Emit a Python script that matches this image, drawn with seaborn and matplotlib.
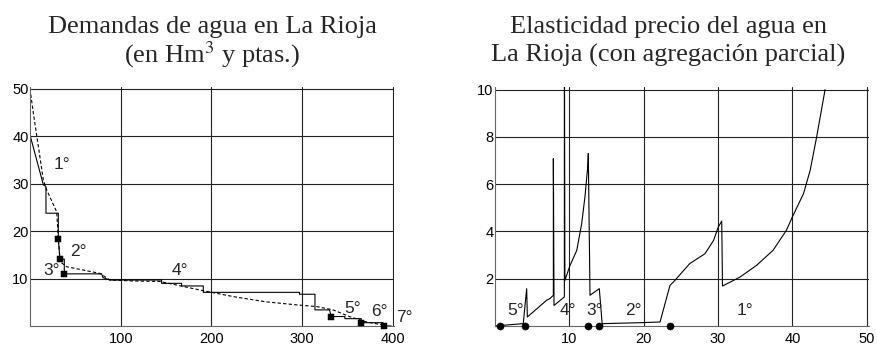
import matplotlib
matplotlib.use("Agg")
import matplotlib.pyplot as plt
import seaborn as sns
import pandas as pd
import numpy as np

# ---------------- data: left chart (demand curves) ----------------
step_x = [0, 14.7, 17.6, 17.6, 31.2, 31.2, 33.0, 36.0, 37.8, 37.8, 78.9, 80.5, 88.0,
          145.0, 145.0, 167.0, 167.0, 191.0, 191.0, 297.0, 297.0, 314.0, 314.0,
          330.0, 332.0, 347.0, 347.0, 365.0, 365.0, 389.0, 390.0, 398.0]
step_y = [40.3, 29.8, 29.4, 23.8, 23.8, 18.4, 14.1, 14.1, 14.1, 11.0, 11.0, 10.2, 9.7,
          9.7, 9.0, 9.0, 8.45, 8.45, 7.1, 7.1, 6.7, 6.7, 3.4,
          3.4, 2.0, 2.0, 1.55, 1.55, 0.7, 0.7, 0.05, 0.0]
dash_x = [0, 3.7, 9.2, 14.7, 18.4, 29.4, 31.2, 33.0, 35.0, 40.4, 58.7, 77.0, 88.0,
          113.8, 143.0, 187.0, 224.0, 260.0, 297.0, 316.0, 334.0, 352.0, 370.0, 389.0]
dash_y = [50.0, 44.9, 37.9, 30.8, 28.7, 24.1, 18.4, 14.1, 13.3, 12.5, 11.8, 11.1, 9.7,
          9.5, 9.4, 7.6, 6.2, 5.1, 4.4, 4.1, 3.4, 2.0, 0.9, 0.2]
mark_left_x = [31.2, 33.0, 37.8, 332.0, 365.0, 390.0]
mark_left_y = [18.4, 14.1, 11.0, 2.0, 0.7, 0.0]
lab_left = ["1°", "2°", "3°", "4°", "5°", "6°", "7°"]
lab_left_x = [35, 53, 24, 165, 355, 385, 413]
lab_left_y = [34, 15.7, 11.8, 11.8, 3.7, 3.0, 1.8]

# ---------------- data: right chart (price elasticity) ----------------
el_x = [0.0, 0.7, 3.8, 4.26, 4.35, 6.95, 7.4, 7.85, 7.85, 7.94, 9.33, 9.33, 9.4,
        10.1, 11.0, 11.66, 12.1, 12.47, 12.55, 12.78, 14.03, 14.44, 14.5,
        19.5, 22.2, 23.54, 24.0, 26.2, 28.25, 29.4, 30.04, 30.5, 30.6,
        32.96, 35.2, 37.4, 39.2, 40.1, 41.5, 42.4, 43.27, 44.4]
el_y = [0.0, 0.02, 0.1, 1.58, 0.38, 1.09, 1.16, 1.3, 7.08, 0.87, 1.23, 14.0, 1.93,
        2.57, 3.2, 4.33, 5.46, 6.73, 7.3, 1.3, 1.58, 0.0, 0.1,
        0.14, 0.17, 1.72, 1.86, 2.64, 3.06, 3.62, 4.19, 4.44, 1.69,
        2.07, 2.57, 3.2, 4.05, 4.68, 5.6, 6.59, 8.0, 10.0]
mark_right_x = [0.7, 4.0, 12.55, 14.03, 23.5]
mark_right_y = [0.0, 0.0, 0.0, 0.0, 0.0]
lab_right = ["5°", "4°", "3°", "2°", "1°"]
lab_right_x = [2.8, 9.8, 13.45, 18.6, 33.6]
lab_right_y = [0.66, 0.66, 0.66, 0.66, 0.66]

left_xticks = [100, 200, 300, 400]
left_yticks = [10, 20, 30, 40, 50]
right_xticks = [10, 20, 30, 40, 50]
right_yticks = [2, 4, 6, 8, 10]

title_left = ["Demandas de agua en La Rioja", "(en Hm$^{3}$ y ptas.)"]
title_right = ["Elasticidad precio del agua en", "La Rioja (con agregación parcial)"]

# ---------------- figure ----------------
sns.set_style("white")
plt.rcParams["font.family"] = ["Liberation Sans", "DejaVu Sans"]
plt.rcParams["mathtext.fontset"] = "stix"

W, H = 877, 348
fig = plt.figure(figsize=(W / 100, H / 100), dpi=100)

lx0, lbottom = 30, 326
lxpu, lypu = 0.9075, 4.74
l_xmax, l_ymax = 401, 50.5
axL = fig.add_axes([lx0 / W, (H - lbottom) / H, l_xmax * lxpu / W, l_ymax * lypu / H])

rx0, rbottom = 495, 326
rxpu, rypu = 7.434, 23.64
r_xmax, r_ymax = 50.3, 10.1
axR = fig.add_axes([rx0 / W, (H - rbottom) / H, r_xmax * rxpu / W, r_ymax * rypu / H])

df_step = pd.DataFrame({"x": step_x, "y": step_y})
df_dash = pd.DataFrame({"x": dash_x, "y": dash_y})
df_ml = pd.DataFrame({"x": mark_left_x, "y": mark_left_y})
df_el = pd.DataFrame({"x": el_x, "y": el_y})
df_mr = pd.DataFrame({"x": mark_right_x, "y": mark_right_y})

sns.lineplot(data=df_step, x="x", y="y", sort=False, estimator=None, ax=axL,
             color="black", linewidth=0.8)
sns.lineplot(data=df_dash, x="x", y="y", sort=False, estimator=None, ax=axL,
             color="black", linewidth=0.8, linestyle=(0, (3, 2)))
sns.scatterplot(data=df_ml, x="x", y="y", ax=axL, marker="s", s=18, color="black",
                edgecolor="black", zorder=5, clip_on=False)

sns.lineplot(data=df_el, x="x", y="y", sort=False, estimator=None, ax=axR,
             color="black", linewidth=0.8)
sns.scatterplot(data=df_mr, x="x", y="y", ax=axR, marker="o", s=26, color="black",
                edgecolor="black", zorder=5, clip_on=False)

for ax, xt, yt, xl, yl in [(axL, left_xticks, left_yticks, l_xmax, l_ymax),
                           (axR, right_xticks, right_yticks, r_xmax, r_ymax)]:
    ax.set_xlim(0, xl)
    ax.set_ylim(0, yl)
    ax.set_xticks(xt)
    ax.set_yticks(yt)
    ax.set_xlabel("")
    ax.set_ylabel("")
    for v in xt:
        ax.axvline(v, color="#222222", linewidth=0.8, zorder=1)
    for v in yt:
        ax.axhline(v, color="#222222", linewidth=0.8, zorder=1)
    for s in ["top", "right"]:
        ax.spines[s].set_visible(False)
    for s in ["left", "bottom"]:
        ax.spines[s].set_color("#666666")
        ax.spines[s].set_linewidth(0.8)
    ax.tick_params(axis="both", which="major", length=0, labelsize=10.5, colors="black")
    ax.tick_params(axis="y", pad=1)
    ax.tick_params(axis="x", pad=4)
    ax.tick_params(axis="both", which="minor", length=2.5, direction="in",
                   color="#555555", width=0.6)
    ax.patch.set_alpha(0)

axL.set_xticks(np.arange(0, 401, 20), minor=True)
axL.set_yticks(np.arange(0, 51, 2), minor=True)
axR.set_xticks(np.arange(0, 51, 2), minor=True)
axR.set_yticks(np.arange(0, 10.1, 0.5), minor=True)

for t, x, y in zip(lab_left, lab_left_x, lab_left_y):
    axL.text(x, y, t, fontsize=12.5, ha="center", va="center", clip_on=False)
for t, x, y in zip(lab_right, lab_right_x, lab_right_y):
    axR.text(x, y, t, fontsize=12.5, ha="center", va="center", clip_on=False)

for cx, lines in [(212, title_left), (668, title_right)]:
    for line, base in zip(lines, [33, 62]):
        fig.text(cx / W, 1 - base / H, line, ha="center", va="baseline",
                 family="Liberation Serif", fontsize=19)

fig.savefig("out.png", dpi=100)
